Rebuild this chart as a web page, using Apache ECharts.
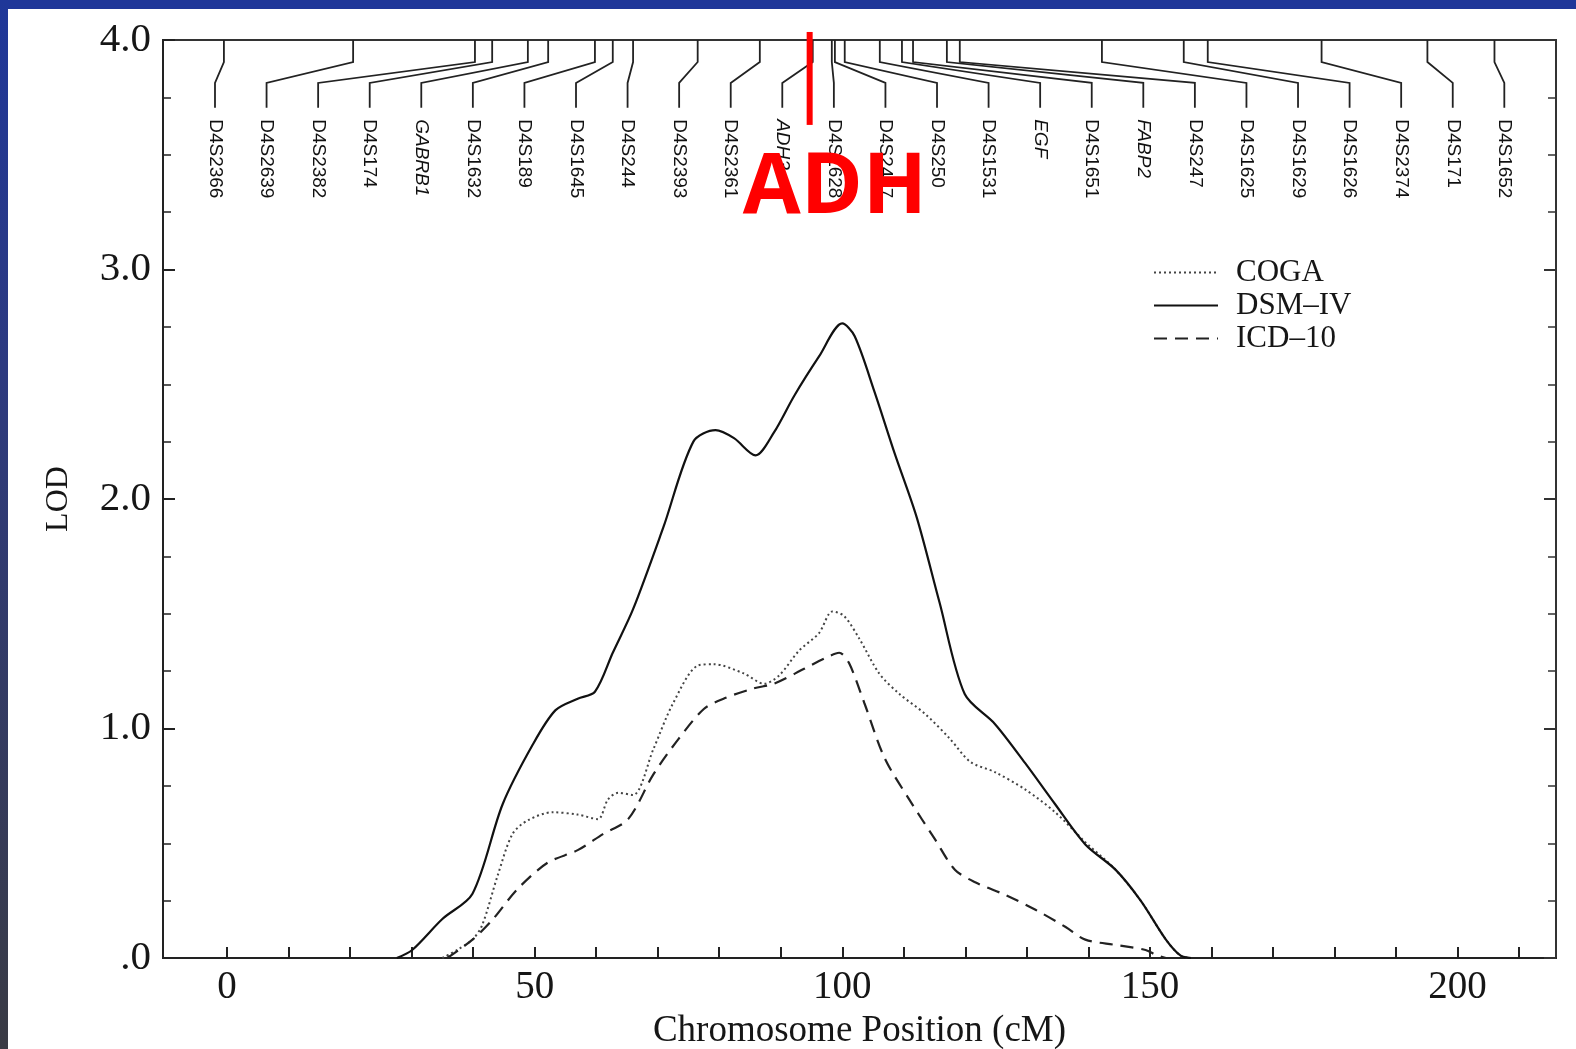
<!DOCTYPE html>
<html><head><meta charset="utf-8">
<script src="https://cdn.jsdelivr.net/npm/echarts@6/dist/echarts.min.js"></script>
<style>
html,body{margin:0;padding:0;background:#fff;}
#wrap{position:relative;width:1576px;height:1049px;overflow:hidden;background:#fff;}
#chart{position:absolute;left:0;top:0;width:1576px;height:1049px;}
#topband{position:absolute;left:0;top:0;width:1576px;height:9px;background:#1f3799;z-index:2}
#leftband{position:absolute;left:0;top:0;width:8px;height:1049px;background:linear-gradient(#1f3799,#2d3a80 35%,#3a3b44 100%);z-index:2}
</style></head><body>
<div id="wrap"><div id="chart"></div><div id="topband"></div><div id="leftband"></div></div>
<script>
// ---- marker map (top) ----
const markerNames = ['D4S2366','D4S2639','D4S2382','D4S174','GABRB1','D4S1632','D4S189','D4S1645','D4S244','D4S2393','D4S2361','ADH3','D4S1628','D4S2417','D4S250','D4S1531','EGF','D4S1651','FABP2','D4S247','D4S1625','D4S1629','D4S1626','D4S2374','D4S171','D4S1652'];
const markerPos = [-0.5, 20.5, 40.3, 43.1, 48.9, 52.2, 59.8, 62.7, 66.0, 76.5, 86.6, 95.2, 98.3, 98.8, 100.4, 106.1, 109.7, 111.5, 117.0, 119.1, 142.2, 155.5, 159.4, 177.9, 195.1, 206.0];
const italicMarkers = ['GABRB1','ADH3','EGF','FABP2'];
const labelStart = -1.95, labelEnd = 207.6;   // label slots spread evenly between these (cM)

// ---- LOD curves ----
const dsmX = [27.6, 30.1, 35, 39.9, 44.8, 49.7, 53.4, 57, 59.8, 62.7, 66, 70.9, 75.8, 79.4, 82.4, 85.9, 88.9, 92.2, 96.2, 100, 102, 105.2, 108.5, 112.1, 115.8, 119.9, 124.8, 129.7, 134.6, 139.5, 144.4, 148.5, 152.6, 155, 156.7];
const dsmY = [0, 0.035, 0.17, 0.28, 0.67, 0.93, 1.08, 1.13, 1.16, 1.33, 1.52, 1.875, 2.25, 2.30, 2.265, 2.19, 2.29, 2.45, 2.62, 2.765, 2.71, 2.47, 2.20, 1.92, 1.55, 1.15, 1.02, 0.85, 0.67, 0.495, 0.385, 0.25, 0.08, 0.01, 0];
const cogaX = [35, 37.4, 39.9, 41.5, 44, 46.4, 48.9, 52.9, 57, 60.3, 61.9, 63.6, 66, 69.3, 72.5, 76.6, 79.1, 84, 87.3, 89.7, 93, 96.2, 98.4, 100.3, 102.8, 106, 109.3, 113.4, 117.5, 120.8, 124.8, 129.7, 134.6, 139.5, 144.4, 148.5, 152.6, 155, 156.7];
const cogaY = [0, 0.035, 0.08, 0.145, 0.36, 0.54, 0.60, 0.635, 0.625, 0.605, 0.69, 0.72, 0.71, 0.91, 1.11, 1.275, 1.28, 1.24, 1.195, 1.23, 1.34, 1.415, 1.51, 1.49, 1.39, 1.24, 1.15, 1.065, 0.955, 0.855, 0.81, 0.735, 0.635, 0.505, 0.385, 0.25, 0.08, 0.01, 0];
const icdX = [35.8, 39.9, 43.1, 47.2, 52.1, 57, 61.1, 65.2, 69.3, 73.4, 77.5, 80.7, 85.6, 88.9, 93.8, 97.1, 99.5, 101.1, 103.6, 106.9, 110.9, 115, 118.3, 121.6, 126.5, 131.4, 136.3, 139.5, 144.4, 149.3, 151, 152.6];
const icdY = [0, 0.08, 0.165, 0.30, 0.415, 0.47, 0.54, 0.605, 0.80, 0.955, 1.085, 1.13, 1.175, 1.195, 1.26, 1.305, 1.33, 1.285, 1.11, 0.87, 0.69, 0.52, 0.385, 0.33, 0.275, 0.21, 0.135, 0.08, 0.057, 0.035, 0.013, 0];

const seriesNames = ['COGA', 'DSM\u2013IV', 'ICD\u201310'];
const xTickValues = [0,10,20,30,40,50,60,70,80,90,100,110,120,130,140,150,160,170,180,190,200,210];
const xLabelValues = [0,50,100,150,200];
const yLabels = {0:'.0',1:'1.0',2:'2.0',3:'3.0',4:'4.0'};

const adhLinePos = 94.7, adhLabelPos = 98.8;

const zip = (xs, ys) => xs.map((x,i)=>[x, ys[i]]);
const ink = '#161616';
const serif = '"Liberation Serif", "Times New Roman", serif';

const chart = echarts.init(document.getElementById('chart'), null, {renderer:'canvas'});
chart.setOption({
  animation:false,
  backgroundColor:'transparent',
  grid:{left:163, right:20, top:40, bottom:91, show:true, borderColor:'#333', borderWidth:2,
        backgroundColor:'transparent', containLabel:false, outerBoundsMode:'none'},
  legend:{
    orient:'vertical', left:1148, top:252, itemWidth:64, itemHeight:14, itemGap:2,
    itemStyle:{color:'rgba(0,0,0,0)', borderColor:'rgba(0,0,0,0)', borderWidth:0},
    textStyle:{fontFamily:serif, fontSize:31, color:ink, lineHeight:30, padding:[0,0,0,13]},
    data: seriesNames
  },
  xAxis:[{
    type:'value', min:-10.4, max:216, position:'bottom',
    axisLine:{show:true, onZero:false, lineStyle:{color:'#222', width:2}},
    axisTick:{show:true, inside:true, length:11, customValues:xTickValues, lineStyle:{color:'#222', width:2}},
    axisLabel:{customValues:xLabelValues, fontFamily:serif, fontSize:39, color:ink, margin:10},
    splitLine:{show:false},
    name:'Chromosome Position (cM)', nameLocation:'middle', nameGap:55,
    nameTextStyle:{fontFamily:serif, fontSize:37, color:ink}
  }],
  yAxis:[{
    type:'value', min:0, max:4, interval:1, position:'left',
    axisLine:{show:true, onZero:false, lineStyle:{color:'#222', width:2}},
    axisTick:{show:true, inside:true, length:12, lineStyle:{color:'#222', width:2}},
    minorTick:{show:true, splitNumber:4, length:8, lineStyle:{color:'#222', width:1.5}},
    axisLabel:{formatter:v=>yLabels[v], fontFamily:serif, fontSize:41, color:ink, margin:12},
    splitLine:{show:false}, minorSplitLine:{show:false},
    name:'LOD', nameLocation:'middle', nameGap:88,
    nameTextStyle:{fontFamily:serif, fontSize:32, color:ink}
  },{
    type:'value', min:0, max:4, interval:1, position:'right',
    axisLine:{show:true, onZero:false, lineStyle:{color:'#333', width:2}},
    axisTick:{show:true, inside:true, length:12, lineStyle:{color:'#333', width:2}},
    minorTick:{show:true, splitNumber:4, length:8, lineStyle:{color:'#333', width:1.5}},
    axisLabel:{show:false}, splitLine:{show:false}
  }],
  series:[
    {name:seriesNames[0], type:'line', data:zip(cogaX,cogaY), symbol:'none', smooth:0.3,
     lineStyle:{color:'#444', width:2, type:[2,3]}, z:3},
    {name:seriesNames[1], type:'line', data:zip(dsmX,dsmY), symbol:'none', smooth:0.3,
     lineStyle:{color:'#111', width:2.2, type:'solid'}, z:3},
    {name:seriesNames[2], type:'line', data:zip(icdX,icdY), symbol:'none', smooth:0.3,
     lineStyle:{color:'#222', width:2.2, type:[13,8]}, z:3},
    {
      type:'custom', silent:true, clip:false, z:4,
      data: markerPos.map(p=>[p, 4]),
      encode:{x:0, y:1},
      renderItem:(params, api)=>{
        const i = params.dataIndex;
        const n = markerNames.length;
        const pos = api.value(0);
        const slot = labelStart + i*(labelEnd-labelStart)/(n-1);
        const a = api.coord([pos, 4]);
        const b = api.coord([pos, 3.904]);
        const c = api.coord([slot, 3.813]);
        const d = api.coord([slot, 3.705]);
        const t = api.coord([slot, 3.655]);
        const name = markerNames[i];
        const it = italicMarkers.indexOf(name) >= 0 ? 'italic ' : '';
        return {type:'group', children:[
          {type:'polyline', shape:{points:[a,b,c,d]}, style:{stroke:'#222', lineWidth:1.8, fill:null}},
          {type:'text', x:t[0], y:t[1], rotation:-Math.PI/2,
           style:{text:name, font: it + '19px "Liberation Sans", Arial, sans-serif', fill:'#111', align:'left', verticalAlign:'middle'}}
        ]};
      }
    },
    {
      type:'custom', silent:true, clip:false, z:6,
      data:[[adhLinePos, 4]],
      encode:{x:0, y:1},
      renderItem:(params, api)=>{
        const p0 = api.coord([adhLinePos, 4.035]);
        const p1 = api.coord([adhLinePos, 3.63]);
        const tp = api.coord([adhLabelPos, 3.352]);
        return {type:'group', children:[
          {type:'line', shape:{x1:p0[0], y1:p0[1], x2:p1[0], y2:p1[1]}, style:{stroke:'#ff0000', lineWidth:6}},
          {type:'text', x:tp[0], y:tp[1], style:{text:'ADH', font:'bold 84px "Open Sans", "Noto Sans", sans-serif', fill:'#ff0000', align:'center', verticalAlign:'middle'}}
        ]};
      }
    }
  ]
});
</script>
</body></html>
